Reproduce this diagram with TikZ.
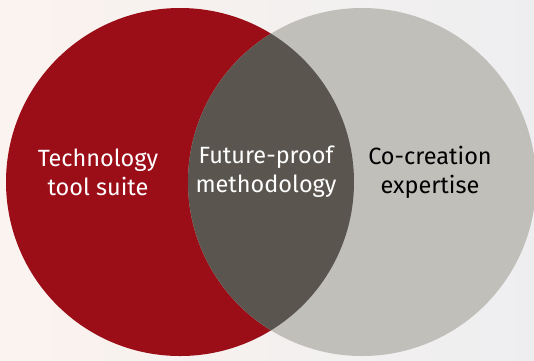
\documentclass[tikz,border=0pt]{standalone}
\usepackage{fontspec}
\setmainfont{Fira Sans}
\definecolor{setred}{HTML}{9B0E18}
\definecolor{setgrey}{HTML}{C1BFBA}
\definecolor{setdark}{HTML}{5A554F}
\definecolor{bgleft}{HTML}{FBF3EF}
\definecolor{bgright}{HTML}{EEEEF0}
\begin{document}
\begin{tikzpicture}[x=1pt,y=-1pt,
  setlabel/.style={font=\fontsize{23.5}{29}\selectfont, align=center, inner sep=0pt}]
\useasboundingbox (0,0) rectangle (534,360); % fix the frame
\shade[left color=bgleft, right color=bgright] (0,0) rectangle (534,360);
\fill[setred]  (180,182) circle (174pt);
\fill[setgrey] (362,182) circle (174pt);
\begin{scope}
  \clip (180,182) circle (174pt);
  \fill[setdark] (362,182) circle (174pt);
\end{scope}
\node[setlabel, white] (tech)  at (98,172)  {Technology\\tool suite};
\node[setlabel, white] (method) at (266,172) {Future-proof\\methodology};
\node[setlabel, black] (cocreate) at (430,172) {Co-creation\\expertise};
\end{tikzpicture}
\end{document}
